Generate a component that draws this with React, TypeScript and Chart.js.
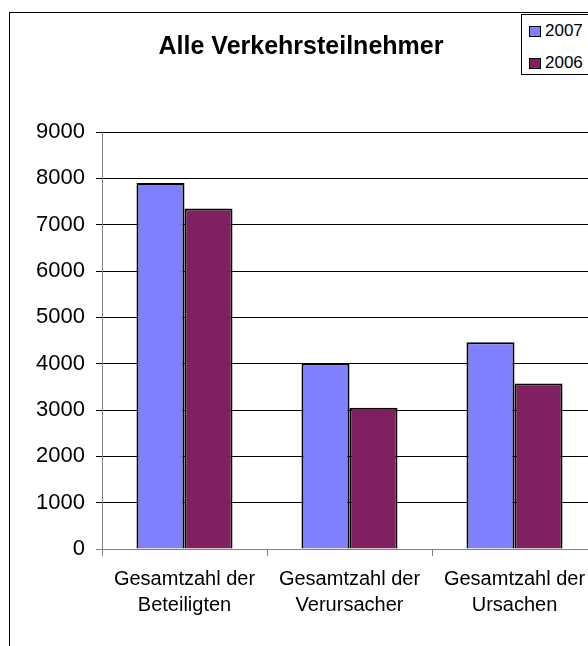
import React, { useEffect, useRef } from "react";
import { Chart, registerables } from "chart.js";

Chart.register(...registerables);

// ---- data ----
const chartTitle = "Alle Verkehrsteilnehmer";
const categories: string[][] = [
  ["Gesamtzahl der", "Beteiligten"],
  ["Gesamtzahl der", "Verursacher"],
  ["Gesamtzahl der", "Ursachen"],
];
const seriesNames = ["2007", "2006"];
const values2007 = [7900, 4010, 4460];
const values2006 = [7350, 3050, 3570];
const yMin = 0;
const yMax = 9000;
const yStep = 1000;

const COLOR_2007 = "#8080FF";
const COLOR_2006 = "#802060";
const FONT = "'Liberation Sans', Arial, sans-serif";

export default function App() {
  const canvasRef = useRef<HTMLCanvasElement | null>(null);

  useEffect(() => {
    if (!canvasRef.current) return;
    const chart = new Chart(canvasRef.current, {
      type: "bar",
      data: {
        labels: categories,
        datasets: [
          {
            label: seriesNames[0],
            data: values2007,
            backgroundColor: COLOR_2007,
            borderColor: "#000000",
            borderWidth: 2,
            categoryPercentage: 0.582,
            barPercentage: 1,
          },
          {
            label: seriesNames[1],
            data: values2006,
            backgroundColor: COLOR_2006,
            borderColor: "#000000",
            borderWidth: 2,
            categoryPercentage: 0.582,
            barPercentage: 1,
          },
        ],
      },
      options: {
        responsive: false,
        animation: false,
        devicePixelRatio: 1,
        layout: { padding: 0 },
        plugins: {
          legend: { display: false },
          tooltip: { enabled: false },
          title: {
            display: true,
            text: chartTitle,
            color: "#000000",
            font: { family: FONT, size: 25, weight: "bold", lineHeight: 1.2 },
            padding: { top: 19.5, bottom: 69.5 },
          },
        },
        scales: {
          x: {
            offset: true,
            afterFit: (s: any) => {
              s.height = 97;
            },
            grid: {
              display: true,
              drawOnChartArea: false,
              drawTicks: true,
              tickLength: 7,
              color: "#808080",
              offset: true,
            },
            border: { display: true, color: "#808080", width: 1 },
            ticks: {
              color: "#000000",
              font: { family: FONT, size: 20, lineHeight: 1.33 },
              padding: 10,
              maxRotation: 0,
              autoSkip: false,
            },
          },
          y: {
            min: yMin,
            max: yMax,
            afterFit: (s: any) => {
              s.width = 97;
            },
            grid: {
              color: (ctx: any) =>
                ctx.tick && ctx.tick.value === 0 ? "#808080" : "#000000",
              drawTicks: true,
              tickLength: 6,
            },
            border: { display: true, color: "#808080", width: 1 },
            ticks: {
              stepSize: yStep,
              color: "#000000",
              font: { family: FONT, size: 22 },
              padding: 11,
              callback: (v: any) => String(v),
            },
          },
        },
      },
    });
    return () => chart.destroy();
  }, []);

  const legendRow = (label: string, color: string, top: number) => (
    <div
      style={{
        position: "absolute",
        left: 7,
        top,
        height: 20,
        display: "flex",
        alignItems: "center",
        whiteSpace: "nowrap",
      }}
    >
      <div
        style={{
          width: 10,
          height: 9,
          background: color,
          border: "1.5px solid #000",
          marginRight: 4,
        }}
      />
      <span style={{ fontFamily: FONT, fontSize: 17, color: "#000" }}>{label}</span>
    </div>
  );

  return (
    <div
      style={{
        position: "fixed",
        left: 0,
        top: 0,
        width: 588,
        height: 646,
        overflow: "hidden",
        background: "#ffffff",
      }}
    >
      <div
        style={{
          position: "absolute",
          left: 9,
          top: 12,
          width: 700,
          height: 700,
          border: "1px solid #000",
          boxSizing: "border-box",
        }}
      />
      <canvas
        ref={canvasRef}
        width={592}
        height={633}
        style={{ position: "absolute", left: 5, top: 13, width: 592, height: 633 }}
      />
      <div
        style={{
          position: "absolute",
          left: 521,
          top: 14,
          width: 100,
          height: 61,
          border: "1px solid #000",
          background: "#fff",
          boxSizing: "border-box",
        }}
      >
        {legendRow(seriesNames[0], COLOR_2007, 6)}
        {legendRow(seriesNames[1], COLOR_2006, 38)}
      </div>
    </div>
  );
}
